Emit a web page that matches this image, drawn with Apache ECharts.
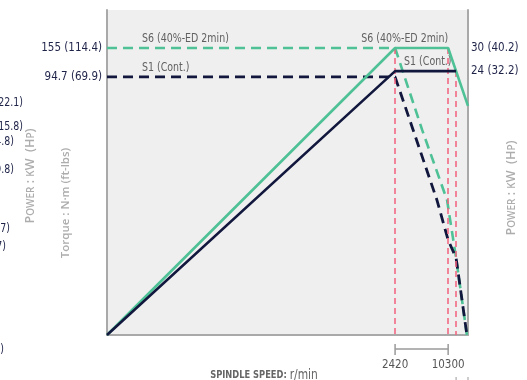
<!DOCTYPE html>
<html><head><meta charset="utf-8">
<script src="https://cdn.jsdelivr.net/npm/echarts@6/dist/echarts.min.js"></script>
<style>html,body{margin:0;padding:0;background:#fff}#c{width:527px;height:380px}</style>
</head><body><div id="c"></div>
<script>
// Schematic chart: axes are not to scale, values are positions along schematic axes (0-100)
const speedTickLabels = ['2420', '10300'];
const speedTickPos = [79.8, 94.5];
const speedMarkPos = [79.8, 94.5, 96.7];
const torqueTickLabels = ['94.7 (69.9)', '155 (114.4)'];
const torqueTickPos = [79.4, 88.3];
const powerTickLabels = ['24 (32.2)', '30 (40.2)'];
const powerTickPos = [81.2, 88.3];

// S6 power (solid green)
const s6PowerX = [0, 79.8, 94.5, 100];
const s6PowerY = [0, 88.3, 88.3, 70.5];
// S1 power (solid navy)
const s1PowerX = [0, 79.8, 96.7];
const s1PowerY = [0, 81.2, 81.2];
// S6 torque (dashed green)
const s6TorqueX = [0, 79.8, 87.3, 94.2, 96.7, 99.7];
const s6TorqueY = [88.3, 88.3, 63.1, 41.5, 23.7, 0];
// S1 torque (dashed navy)
const s1TorqueX = [0, 78.6, 79.8, 84.8, 91.4, 94.5, 96.7, 99.7];
const s1TorqueY = [79.4, 79.4, 79.4, 63.1, 41.5, 29.2, 23.7, 0];

// red marker line tops
const markTopY = [88.3, 88.3, 81.2];

const zip = (xs, ys) => xs.map((x, i) => [x, ys[i]]);
const GREEN = '#4fc196', NAVY = '#11173d', RED = '#f2617c', AXIS = '#a9a9a9';
const FONT = '"DejaVu Sans Condensed","Liberation Sans Narrow",sans-serif';
const TICKC = '#1e2348';

const chart = echarts.init(document.getElementById('c'), null, {renderer: 'canvas'});
const option = {
  animation: false,
  grid: {left: 107, top: 10, width: 361, height: 325, show: true, backgroundColor: '#efefef', borderWidth: 0},
  xAxis: {
    type: 'value', min: 0, max: 100,
    axisLine: {show: true, lineStyle: {color: AXIS, width: 2}},
    axisTick: {show: false}, splitLine: {show: false},
    axisLabel: {customValues: speedTickPos, margin: 24, color: '#555', fontFamily: FONT, fontSize: 11.5,
      formatter: v => speedTickLabels[speedTickPos.indexOf(v)] || ''}
  },
  yAxis: [{
    type: 'value', min: 0, max: 100, position: 'left',
    axisLine: {show: true, lineStyle: {color: AXIS, width: 2}},
    axisTick: {show: false}, splitLine: {show: false},
    axisLabel: {customValues: torqueTickPos, margin: 5, color: TICKC, fontFamily: FONT, fontSize: 11.5,
      formatter: v => torqueTickLabels[torqueTickPos.indexOf(v)] || ''}
  }, {
    type: 'value', min: 0, max: 100, position: 'right',
    axisLine: {show: true, lineStyle: {color: AXIS, width: 2}},
    axisTick: {show: false}, splitLine: {show: false},
    axisLabel: {customValues: powerTickPos, margin: 3, color: TICKC, fontFamily: FONT, fontSize: 11.5,
      formatter: v => powerTickLabels[powerTickPos.indexOf(v)] || ''}
  }],
  series: [
    {type: 'line', data: zip(s6TorqueX, s6TorqueY), symbol: 'none', z: 3,
     lineStyle: {color: GREEN, width: 2.6, type: [10, 6]}},
    {type: 'line', data: zip(s1TorqueX, s1TorqueY), symbol: 'none', z: 4,
     lineStyle: {color: NAVY, width: 2.8, type: [10, 6]},
     markLine: {symbol: 'none', silent: true, label: {show: false},
       lineStyle: {color: RED, width: 1.5, type: [6, 4]},
       data: speedMarkPos.map((x, i) => [{coord: [x, markTopY[i]]}, {coord: [x, 0]}])}},
    {type: 'line', data: zip(s6PowerX, s6PowerY), symbol: 'none', z: 5,
     lineStyle: {color: GREEN, width: 2.6}},
    {type: 'line', data: zip(s1PowerX, s1PowerY), symbol: 'none', z: 6,
     lineStyle: {color: NAVY, width: 2.6}}
  ]
};
chart.setOption(option);

const px = v => chart.convertToPixel({xAxisIndex: 0}, v);
const py = v => chart.convertToPixel({yAxisIndex: 0}, v);
const y0 = py(0);
const gray = '#9a9a9a';
const bx1 = px(speedTickPos[0]), bx2 = px(speedTickPos[1]);
const SX = 0.84;
const lbl = (text, x, y, align) => ({type: 'text', x, y, scaleX: SX,
  style: {text, textAlign: align, textVerticalAlign: 'middle', fill: '#606060', font: '12.5px ' + FONT}});
const rot = Math.PI / 2;
const powerRich = {
  b: {fontFamily: '"Open Sans", sans-serif', fontWeight: 600, fontSize: 12.5, fill: '#adadad'},
  s: {fontFamily: '"Open Sans", sans-serif', fontWeight: 600, fontSize: 10, fill: '#adadad', verticalAlign: 'bottom'}
};
const powerText = '{b|P}{s|OWER}{b| : }{s|K}{b|W  (H}{s|P}{b|)}';
const g = [
  // bracket under axis
  {type: 'line', shape: {x1: bx1, y1: y0 + 14, x2: bx2, y2: y0 + 14}, style: {stroke: gray, lineWidth: 1.5}},
  {type: 'line', shape: {x1: bx1, y1: y0 + 9, x2: bx1, y2: y0 + 20}, style: {stroke: gray, lineWidth: 1.5}},
  {type: 'line', shape: {x1: bx2, y1: y0 + 9, x2: bx2, y2: y0 + 20}, style: {stroke: gray, lineWidth: 1.5}},
  {type: 'line', shape: {x1: px(speedMarkPos[2]), y1: y0 + 42, x2: px(speedMarkPos[2]), y2: y0 + 50}, style: {stroke: gray, lineWidth: 1}},
  {type: 'line', shape: {x1: px(100), y1: y0 + 42, x2: px(100), y2: y0 + 50}, style: {stroke: gray, lineWidth: 1}},
  // series labels
  lbl('S6 (40%-ED 2min)', px(9.7), py(88.3) - 9, 'left'),
  lbl('S1 (Cont.)', px(9.7), py(79.4) - 9, 'left'),
  lbl('S6 (40%-ED 2min)', px(94.5), py(88.3) - 9, 'right'),
  lbl('S1 (Cont.)', px(82.3), py(81.2) - 9, 'left'),
  // axis names
  {type: 'text', x: 264, y: 375, scaleX: 0.88, style: {text: '{a|SPINDLE SPEED: }{b|r/min}', textAlign: 'center', textVerticalAlign: 'middle',
     rich: {a: {fontFamily: FONT, fontSize: 10.5, fill: '#666', fontWeight: 'bold'}, b: {fontFamily: FONT, fontSize: 13.5, fill: '#666'}}}},
  {type: 'text', x: 66, y: 203, rotation: rot, style: {text: 'Torque : N·m (ft-lbs)', textAlign: 'center', textVerticalAlign: 'middle',
     fill: '#adadad', font: '600 11.5px "Open Sans", sans-serif'}},
  {type: 'text', x: 30, y: 176, rotation: rot, style: {text: powerText, textAlign: 'center', textVerticalAlign: 'middle', rich: powerRich}},
  {type: 'text', x: 511, y: 188, rotation: rot, style: {text: powerText, textAlign: 'center', textVerticalAlign: 'middle', rich: powerRich}}
];
// fragments of neighbouring chart labels cut by the left edge
const fragTexts = ['16.5 (22.1)', '11.8 (15.8)', '11 (14.8)', '7.3 (9.8)', '2 (2.7)', '1.3 (1.7)', '0 (0)'];
const fragRight = [23, 23, 14, 14, 10, 6, 4];
const fragY = [103, 127, 142, 170, 229, 247, 350];
fragTexts.forEach((t, i) => g.push({type: 'text', x: fragRight[i], y: fragY[i], scaleX: SX,
  style: {text: t, textAlign: 'right', textVerticalAlign: 'middle', fill: TICKC, font: '12.5px ' + FONT}}));
chart.setOption({graphic: g});
</script></body></html>
